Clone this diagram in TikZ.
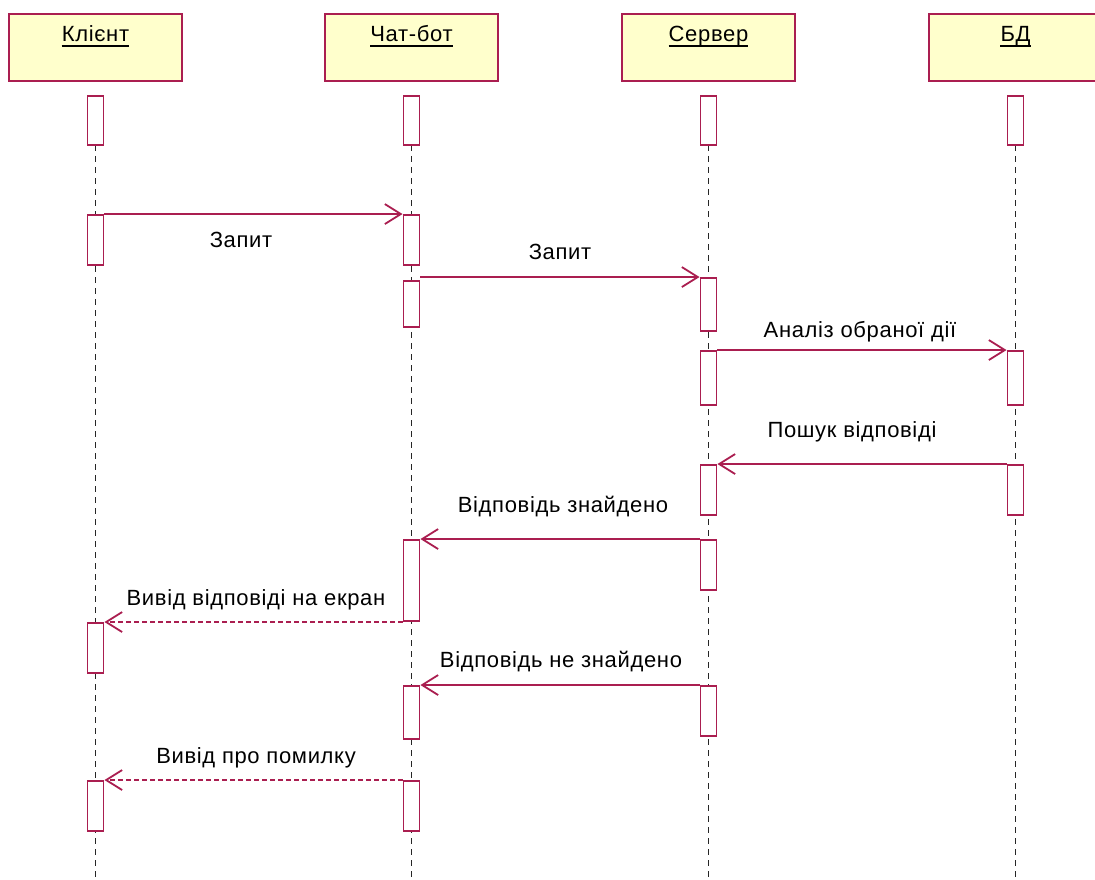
\documentclass[tikz,border=0pt]{standalone}
\usepackage{fontspec}
\setmainfont{Liberation Sans}
\newfontfamily\lblfont[LetterSpace=3]{Liberation Sans}
\usetikzlibrary{arrows.meta}
\definecolor{umlred}{RGB}{170,30,80}
\definecolor{umlfill}{RGB}{255,255,204}
% activation box: name, x, top, bottom
\newcommand\actbox[4]{\node[act, minimum height={(#4-#3)*1pt}] (#1) at (#2,{(#3+#4)/2}) {};}
\begin{document}
\begin{tikzpicture}[x=1pt,y=-1pt,
  head/.style={draw=umlred, fill=umlfill, line width=1.9pt, minimum width=173pt, minimum height=67pt, inner sep=0pt},
  act/.style={draw=umlred, fill=white, line width=1.9pt, minimum width=16pt, inner sep=0pt},
  life/.style={black!85, line width=1.7pt, dash pattern=on 6pt off 5pt},
  msg/.style={umlred, line width=1.8pt, -{Straight Barb[length=16pt,width=20pt]}},
  reply/.style={msg, dash pattern=on 5pt off 3pt},
  lbl/.style={font=\lblfont\fontsize{22}{26}\selectfont, anchor=base, inner sep=0pt},
  ul/.style={black, line width=1.5pt}]
\useasboundingbox (0,0) rectangle (1095,880);

% object headers
\node[head] (hA) at (95.5,47.5) {};
\node[head] (hB) at (411.5,47.5) {};
\node[head] (hC) at (708.5,47.5) {};
\node[head] (hD) at (1015.5,47.5) {};
\node[lbl] (tA) at (95.5,42) {Клієнт};
\node[lbl] (tB) at (411.5,42) {Чат-бот};
\node[lbl] (tC) at (708.5,42) {Сервер};
\node[lbl] (tD) at (1015.5,42) {БД};
\foreach \t in {tA,tB,tC,tD}
  \draw[ul] ([yshift=-4pt]\t.base west) -- ([yshift=-4pt]\t.base east);

% lifeline ends
\coordinate (eA) at (95.5,880);
\coordinate (eB) at (411.5,880);
\coordinate (eC) at (708.5,880);
\coordinate (eD) at (1015.5,880);
\draw[life] (95.5,145) -- (eA);
\draw[life] (411.5,145) -- (eB);
\draw[life] (708.5,145) -- (eC);
\draw[life] (1015.5,145) -- (eD);

% activations
\actbox{a0}{95.5}{96}{145}
\actbox{a1}{95.5}{215}{265}
\actbox{a2}{95.5}{623}{673}
\actbox{a3}{95.5}{781}{831}
\actbox{b0}{411.5}{96}{145}
\actbox{b1}{411.5}{215}{265}
\actbox{b2}{411.5}{281}{327}
\actbox{b3}{411.5}{540}{621}
\actbox{b4}{411.5}{686}{739}
\actbox{b5}{411.5}{781}{831}
\actbox{c0}{708.5}{96}{145}
\actbox{c1}{708.5}{278}{331}
\actbox{c2}{708.5}{351}{405}
\actbox{c3}{708.5}{465}{515}
\actbox{c4}{708.5}{540}{590}
\actbox{c5}{708.5}{686}{736}
\actbox{d0}{1015.5}{96}{145}
\actbox{d1}{1015.5}{351}{405}
\actbox{d2}{1015.5}{465}{515}

% messages
\draw[msg] (a1.north east) -- (b1.north west);
\draw[msg] (b2.east |- c1.north) -- (c1.north west);
\draw[msg] (c2.north east) -- (d1.north west);
\draw[msg] (d2.north west) -- (c3.north east);
\draw[msg] (c4.north west) -- (b3.north east);
\draw[reply] (b3.west |- a2.north) -- (a2.north east);
\draw[msg] (c5.north west) -- (b4.north east);
\draw[reply] (b5.north west) -- (a3.north east);

% message labels
\node[lbl] (m1) at (241,247) {Запит};
\node[lbl] (m2) at (560,259) {Запит};
\node[lbl] (m3) at (860,337) {Аналіз обраної дії};
\node[lbl] (m4) at (852,437) {Пошук відповіді};
\node[lbl] (m5) at (563,512) {Відповідь знайдено};
\node[lbl] (m6) at (256,605) {Вивід відповіді на екран};
\node[lbl] (m7) at (561,667) {Відповідь не знайдено};
\node[lbl] (m8) at (256,763) {Вивід про помилку};
\end{tikzpicture}
\end{document}
